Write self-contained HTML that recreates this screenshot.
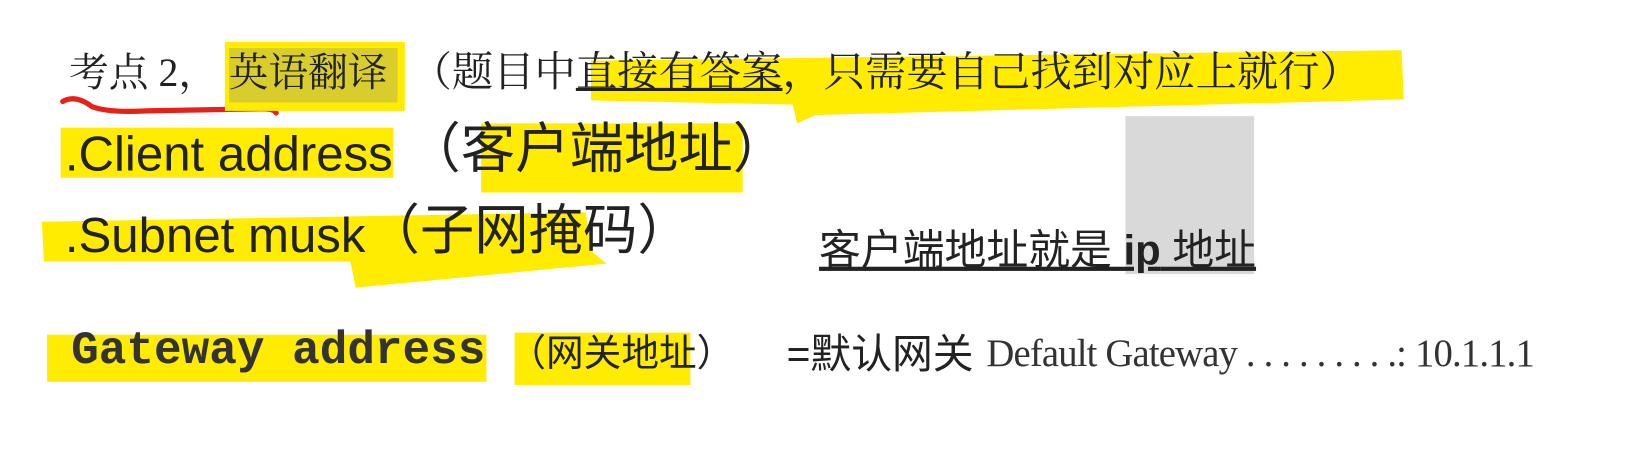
<!DOCTYPE html>
<html><head><meta charset="utf-8"><style>
body{margin:0;width:1640px;height:459px;background:#fff;position:relative;overflow:hidden;font-family:"Liberation Sans","Noto Sans CJK SC",sans-serif;color:#222}
#c{position:absolute;left:0;top:0;width:1568px;height:439px;transform:scale(1.046);transform-origin:0 0}
.a{position:absolute;white-space:nowrap;line-height:1}
.y{position:absolute;background:#ffec00}
</style></head><body><div id="c">
<svg class="a" style="left:0;top:0" width="1568" height="439">
<path d="M565 58 L1340 48 L1342 95 L780 110 L762 118 L758 100 L565 96 Z" fill="#ffec00"/>
<path d="M40 212 L560 203 L565 240 L580 252 L340 275 L335 250 L42 250 Z" fill="#ffec00"/>
<path d="M60 97 Q72 90 88 102 Q105 108 140 106 L250 104 Q262 104 264 108" stroke="#e8201a" stroke-width="5" fill="none" stroke-linecap="round"/>
</svg>
<div class="y" style="left:215px;top:40px;width:172px;height:66px"></div>
<div class="y" style="left:219px;top:46px;width:161px;height:52px;background:#d8cd2c"></div>
<div class="y" style="left:58px;top:122px;width:318px;height:48px"></div>
<div class="y" style="left:460px;top:118px;width:250px;height:66px"></div>
<div class="y" style="left:45px;top:320px;width:420px;height:45px"></div>
<div class="y" style="left:492px;top:318px;width:168px;height:50px"></div>
<div class="a" style="left:1076px;top:111px;width:123px;height:151px;background:#d9d9d9"></div>

<div class="a" style="left:66px;top:50px;font-size:38px;font-family:'Liberation Serif','Noto Serif CJK SC',serif">考点 2，<span style="margin-left:10px">英语翻译</span><span style="margin-left:22px;font-size:39.5px">（题目中<u>直接有答案</u>，只需要自己找到对应上就行）</span></div>
<div class="a" style="left:62px;top:120px;font-size:47px">.Client address <span style="font-size:52px;position:relative;top:-3px">（客户端地址）</span></div>
<div class="a" style="left:62px;top:198px;font-size:47px">.Subnet musk<span style="font-size:52px;position:relative;top:-3px">（子网掩码）</span></div>
<div class="a" style="left:783px;top:220px;font-size:40px;text-decoration:underline">客户端地址就是 <b>ip</b> 地址</div>
<div class="a" style="left:68px;top:314px;font-size:44px;font-family:'Liberation Mono',monospace;font-weight:bold;color:#333">Gateway address</div>
<div class="a" style="left:486px;top:320px;font-size:36px">（网关地址）</div>
<div class="a" style="left:752px;top:320px;font-size:39px">=默认网关</div>
<div class="a" style="left:943px;top:320px;font-size:37px;font-family:'Liberation Serif',serif;letter-spacing:-0.8px;color:#333">Default Gateway . . . . . . . . .: 10.1.1.1</div>
</div></body></html>
